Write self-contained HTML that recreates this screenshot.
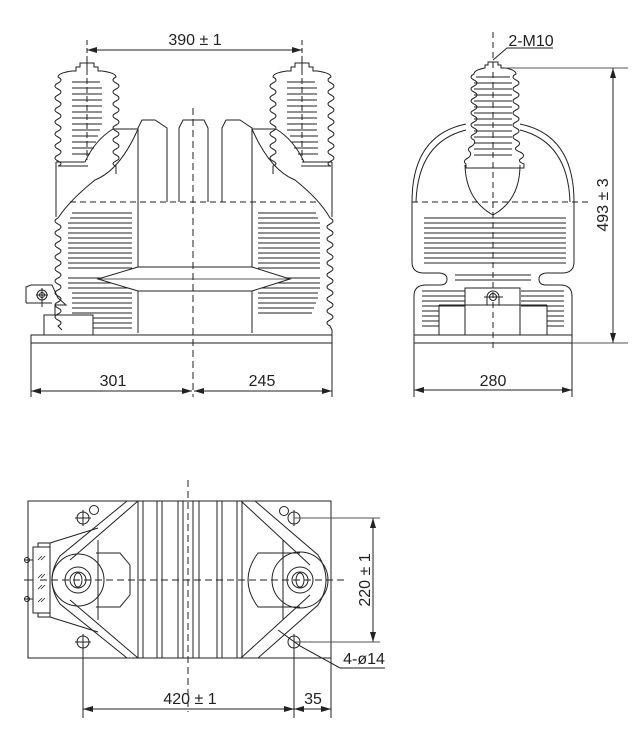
<!DOCTYPE html>
<html><head><meta charset="utf-8"><style>
html,body{margin:0;padding:0;background:#fff;}
svg{display:block;}
text{font-family:"Liberation Sans",sans-serif;font-size:16px;fill:#222;}
</style></head><body>
<svg width="637" height="742" viewBox="0 0 637 742" xmlns="http://www.w3.org/2000/svg">
<defs>
<marker id="a" markerWidth="10" markerHeight="6" refX="10" refY="3" orient="auto-start-reverse" markerUnits="userSpaceOnUse"><path d="M0,0 L10,3 L0,6 z" fill="#222"/></marker>
</defs>
<g stroke="#222" stroke-width="1" fill="none">
<!-- ============ FRONT VIEW ============ -->
<line x1="87" y1="40" x2="87" y2="70" stroke-dasharray="5,3"/>
<line x1="302" y1="40" x2="302" y2="70" stroke-dasharray="5,3"/>
<line x1="87" y1="50" x2="302" y2="50" marker-start="url(#a)" marker-end="url(#a)"/>
<path d="M80,63 h14 v4 h4 v4 h4 q14,2 14,6 q-6,3 0,6 q6,3 0,6 q-6,3 0,6 q6,3 0,6 q-6,3 0,6 q6,3 0,6 q-6,3 0,6 q6,3 0,6 q-6,3 0,6 q6,3 0,6 q-6,3 0,6 q6,3 0,6 q-6,3 0,6 q6,3 0,6 q-6,3 0,5 v8"/>
<path d="M94,63 h-14 v4 h-4 v4 h-4 q-14,2 -14,6 q6,3 0,6 q-6,3 0,6 q6,3 0,6 q-6,3 0,6 q6,3 0,6 q-6,3 0,6 q6,3 0,6 q-6,3 0,6 q6,3 0,6 q-6,3 0,6 q6,3 0,6 q-6,3 0,6 q6,3 0,6 q-6,3 0,6 q6,3 0,5 h30"/>
<path d="M295,63 h14 v4 h4 v4 h4 q14,2 14,6 q-6,3 0,6 q6,3 0,6 q-6,3 0,6 q6,3 0,6 q-6,3 0,6 q6,3 0,6 q-6,3 0,6 q6,3 0,6 q-6,3 0,6 q6,3 0,6 q-6,3 0,6 q6,3 0,6 q-6,3 0,6 q6,3 0,6 q-6,3 0,5 h-30"/>
<path d="M309,63 h-14 v4 h-4 v4 h-4 q-14,2 -14,6 q6,3 0,6 q-6,3 0,6 q6,3 0,6 q-6,3 0,6 q6,3 0,6 q-6,3 0,6 q6,3 0,6 q-6,3 0,6 q6,3 0,6 q-6,3 0,6 q6,3 0,6 q-6,3 0,6 q6,3 0,6 q-6,3 0,6 q6,3 0,5 v8"/>
<g stroke-width="0.9">
<path d="M72,82h28M72,88h30M72,94h30M72,100h30M72,106h30M72,112h30M72,118h30M72,124h30M72,130h28M72,136h26M72,142h24M72,148h22M72,154h18"/>
<path d="M287,82h28M287,88h30M287,94h30M287,100h30M287,106h30M287,112h30M287,118h30M287,124h30M287,130h30M290,136h28M292,142h26M294,148h24M298,154h20"/>
</g>
<line x1="87" y1="60" x2="87" y2="160" stroke-dasharray="6,3"/>
<line x1="302" y1="60" x2="302" y2="160" stroke-dasharray="6,3"/>
<path d="M56,162 V217"/>
<path d="M332,162 V217"/>
<line x1="56" y1="162" x2="85" y2="162"/>
<line x1="302" y1="162" x2="332" y2="162"/>
<line x1="113" y1="129" x2="138" y2="129"/>
<line x1="252" y1="129" x2="276" y2="129"/>
<path d="M113,129 Q95,140 85,162"/>
<path d="M276,129 Q294,140 304,162"/>
<path d="M138,129 Q120,170 95,180 Q70,200 58,218"/>
<path d="M252,129 Q270,170 295,180 Q320,200 330,218"/>
<path d="M138,333 V128 L142,120 H155 L167,128 V202"/>
<path d="M179,202 V128 L183,120 H204 L208,128 V202"/>
<path d="M222,202 V128 L226,120 H240 L252,128 V333"/>
<line x1="70" y1="202" x2="318" y2="202" stroke-dasharray="6,4"/>
<path d="M58,218 q-6,3 0,6 q6,3 0,6 q-6,3 0,6 q6,3 0,6 q-6,3 0,6 q6,3 0,6 q-6,3 0,6 q6,3 0,6 q-6,3 0,6 q6,3 0,6 q-6,3 0,6 q6,3 0,6 q-6,3 0,6 q6,3 0,6 q-6,3 0,6 q6,3 0,6 q-6,3 0,6 q6,3 0,6 l4,4"/>
<path d="M330,218 q6,3 0,6 q-6,3 0,6 q6,3 0,6 q-6,3 0,6 q6,3 0,6 q-6,3 0,6 q6,3 0,6 q-6,3 0,6 q6,3 0,6 q-6,3 0,6 q6,3 0,6 q-6,3 0,6 q6,3 0,6 q-6,3 0,6 q6,3 0,6 q-6,3 0,6 q6,3 0,6 q-6,3 0,6 l2,4 V335"/>
<g stroke-width="0.9">
<path d="M72,213h60M70,218h62M68,223h64M68,228h64M68,233h64M68,238h64M68,243h64M68,248h64M68,253h64M68,258h64M68,263h64M68,268h64M68,278h64M68,283h64M68,288h64M72,293h60M72,298h60M72,303h60M72,308h60M72,313h60M93,318h39M93,323h39M93,328h39"/>
<path d="M258,213h58M258,218h60M258,223h62M258,228h62M258,233h62M258,238h62M258,243h62M258,248h62M258,253h62M258,258h62M258,263h62M258,268h62M258,278h62M258,283h62M258,288h62M258,293h60M258,298h60M258,303h58M258,308h56M258,313h54"/>
</g>
<path d="M138,267 H252 L290,279 L252,291 H138 L98,279 Z" fill="#fff"/>
<line x1="98" y1="279" x2="290" y2="279" stroke-width="0.8"/>
<path d="M26,303 V287 L31,285 H52 L58,298 L66,305 H55 V315 M26,303 H52"/>
<circle cx="42" cy="295" r="5"/><circle cx="42" cy="295" r="2.5"/>
<line x1="36" y1="295" x2="48" y2="295"/><line x1="42" y1="288" x2="42" y2="307"/>
<rect x="44" y="315" width="49" height="20"/>
<rect x="31" y="335" width="301" height="8"/>
<line x1="193" y1="108" x2="193" y2="397" stroke-dasharray="7,4"/>
<line x1="31" y1="343" x2="31" y2="397"/>
<line x1="332" y1="343" x2="332" y2="397"/>
<line x1="31" y1="391" x2="192" y2="391" marker-start="url(#a)" marker-end="url(#a)"/>
<line x1="194" y1="391" x2="332" y2="391" marker-start="url(#a)" marker-end="url(#a)"/>

<!-- ============ SIDE VIEW ============ -->
<line x1="493" y1="32" x2="493" y2="352" stroke-dasharray="6,4"/>
<path d="M493,60 L507,48 H553"/>
<path d="M485,68 v-3 h3 v-3 h10 v3 h3 v3 h4 q11,2 11,6 q-6,3 0,6 q6,3 0,6 q-6,3 0,6 q6,3 0,6 q-6,3 0,6 q6,3 0,6 q-6,3 0,6 q6,3 0,6 q-6,3 0,6 q6,3 0,6 q-6,3 0,6 q6,3 2,6 q-6,3 2,6 q6,3 2,6 q-6,3 2,6 v4 H466 v-4 q-4,-3 2,-6 q4,-3 2,-6 q-4,-3 2,-6 q4,-3 2,-6 q-6,-3 0,-6 q6,-3 0,-6 q-6,-3 0,-6 q6,-3 0,-6 q-6,-3 0,-6 q6,-3 0,-6 q-6,-3 0,-6 q6,-3 0,-6 q-6,-3 0,-6 q6,-3 0,-6 q-6,-3 0,-6 q0,-4 11,-6 z"/>
<g stroke-width="0.9"><path d="M476,77h34M474,83h38M474,89h38M474,95h38M474,101h38M474,107h38M474,113h38M474,119h38M474,125h38M474,131h38M474,137h38M474,143h38M474,149h38M474,155h38"/></g>
<path d="M465,165 Q466,200 493,215 Q520,200 520,165"/>
<path d="M412,202 Q412,135 466,124"/>
<path d="M574,202 Q574,135 520,124"/>
<path d="M416,202 Q418,142 466,130"/>
<path d="M570,202 Q568,142 520,130"/>
<line x1="412" y1="202" x2="590" y2="202" stroke-dasharray="6,4"/>
<path d="M412,202 V262 Q412,273 424,273 H440 Q447,274 447,279 Q447,285 440,285 H426 Q414,285 414,296 V335 H572 V296 Q572,285 560,285 H546 Q539,285 539,279 Q539,274 546,273 H562 Q574,273 574,262 V202"/>
<g stroke-width="0.9"><path d="M424,218h142M424,223h142M424,228h142M424,233h142M424,238h142M424,243h142M424,248h142M424,253h142M424,258h142M424,263h142M455,275h76M455,280h76M422,291h43M422,296h43M422,301h43M422,306h43M422,311h17M422,316h17M422,321h17M422,326h17M521,291h43M521,296h43M521,301h43M521,306h43M547,311h17M547,316h17M547,321h17M547,326h17"/></g>
<path d="M465,288 H520 V305 H465 Z M465,305 V335 M520,305 V335"/>
<path d="M439,305 H465 M520,305 H547 M439,305 V335 M547,305 V335"/>
<path d="M487,305 V297 a6,6 0 0 1 12,0 V305"/>
<circle cx="493" cy="297" r="3.5"/>
<line x1="484" y1="297" x2="503" y2="297"/>
<rect x="414" y="335" width="158" height="8"/>
<line x1="505" y1="68" x2="628" y2="68" stroke="#555"/>
<line x1="572" y1="343" x2="628" y2="343" stroke="#555"/>
<line x1="613" y1="68" x2="613" y2="343" marker-start="url(#a)" marker-end="url(#a)"/>
<line x1="414" y1="343" x2="414" y2="397"/>
<line x1="572" y1="343" x2="572" y2="397"/>
<line x1="414" y1="390" x2="572" y2="390" marker-start="url(#a)" marker-end="url(#a)"/>

<!-- ============ BOTTOM VIEW ============ -->
<rect x="28" y="501" width="303" height="157"/>
<line x1="188" y1="480" x2="188" y2="712" stroke-dasharray="7,4"/>
<line x1="40" y1="580" x2="345" y2="580" stroke-dasharray="7,4"/>
<path d="M138,501V658M143,501V658M157,501V658M162,501V658M178,501V658M183,501V658M193,501V658M199,501V658M217,501V658M222,501V658M237,501V658M242,501V658"/>
<path d="M127,501 L60,556 Q44,580 60,604 L127,658"/>
<path d="M138,501 L70,560 M138,658 L70,600"/>
<path d="M96,553 H120 L130,565 V595 L120,607 H96"/>
<line x1="98" y1="540" x2="98" y2="620"/>
<circle cx="78" cy="580" r="26"/>
<circle cx="78" cy="580" r="13"/><circle cx="78" cy="580" r="8"/><ellipse cx="78" cy="580" rx="4" ry="7"/>
<path d="M50,543 L98,528 M50,617 L98,632"/>
<rect x="33" y="547" width="17" height="66"/>
<path d="M38,547 v-4 h12 v4 M38,613 v4 h12 v-4"/>
<path d="M24,560h9M24,580h9M24,599h9"/>
<circle cx="27" cy="560" r="2.5"/><circle cx="27" cy="599" r="2.5"/>
<path d="M38,560l4,-4M41,560l4,-4M38,578l4,-4M41,578l4,-4M38,589l4,-4M41,589l4,-4M38,602l4,-4M41,602l4,-4" stroke-width="0.8"/>
<path d="M255,501 L318,555 Q334,580 318,605 L258,658"/>
<path d="M241,501 L310,565 M241,658 L310,595"/>
<path d="M300,553 H258 Q238,580 258,607 H300"/>
<line x1="283" y1="540" x2="283" y2="620"/>
<circle cx="300" cy="580" r="28"/>
<circle cx="300" cy="580" r="13"/><circle cx="300" cy="580" r="8"/><ellipse cx="300" cy="580" rx="4" ry="7"/>
<circle cx="83" cy="518" r="6"/><path d="M75,518h16M83,510v16"/>
<circle cx="94" cy="510" r="4.5"/>
<circle cx="83" cy="642" r="6"/><path d="M75,642h16M83,634v16"/>
<circle cx="294" cy="518" r="6"/><path d="M294,510v16"/>
<circle cx="284" cy="511" r="4.5"/>
<circle cx="294" cy="642" r="6"/><path d="M294,634v16"/>
<line x1="294" y1="518" x2="380" y2="518" stroke="#555"/>
<line x1="294" y1="642" x2="380" y2="642" stroke="#555"/>
<line x1="373" y1="518" x2="373" y2="642" marker-start="url(#a)" marker-end="url(#a)"/>
<path d="M278,630 L300,646 L340,668 H385" />
<line x1="83" y1="648" x2="83" y2="718"/>
<line x1="294" y1="648" x2="294" y2="718"/>
<line x1="331" y1="658" x2="331" y2="718"/>
<line x1="83" y1="709" x2="294" y2="709" marker-start="url(#a)" marker-end="url(#a)"/>
<line x1="294" y1="709" x2="331" y2="709" marker-start="url(#a)" marker-end="url(#a)"/>
</g>
<text x="195" y="45" text-anchor="middle">390 ± 1</text>
<text x="113" y="386" text-anchor="middle">301</text>
<text x="262" y="386" text-anchor="middle">245</text>
<text x="531" y="46" text-anchor="middle">2-M10</text>
<text x="493" y="386" text-anchor="middle">280</text>
<text transform="translate(608,205) rotate(-90)" text-anchor="middle">493 ± 3</text>
<text transform="translate(370,580) rotate(-90)" text-anchor="middle">220 ± 1</text>
<text x="364" y="664" text-anchor="middle">4-ø14</text>
<text x="190" y="704" text-anchor="middle">420 ± 1</text>
<text x="313" y="704" text-anchor="middle">35</text>
</svg>
</body></html>
